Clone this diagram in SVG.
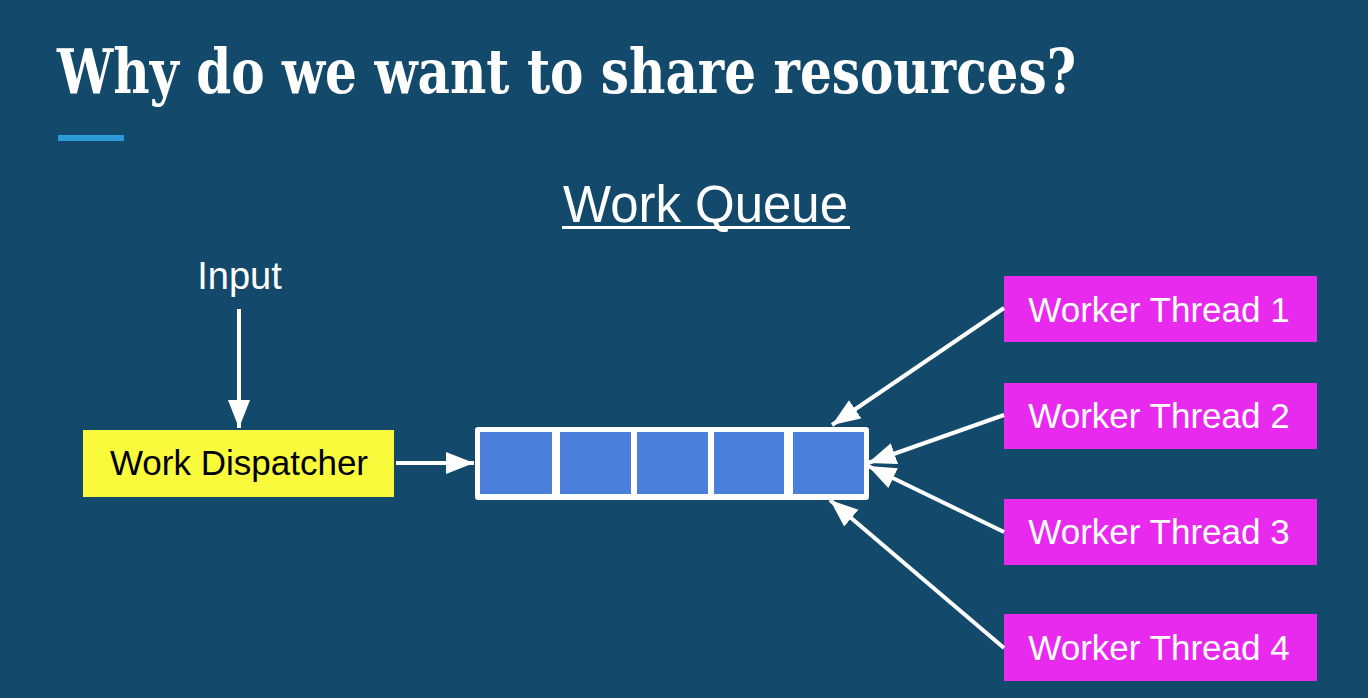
<svg xmlns="http://www.w3.org/2000/svg" width="1368" height="698" viewBox="0 0 1368 698">
<style>
.t{font-family:"Liberation Sans",Arial,sans-serif;}
.wt{fill:#ffffff;font-size:35px;}
.wbox{fill:#e72aee;}
.cell{fill:#4b7fdc;}
.conn{stroke:#ffffff;stroke-width:4;fill:none;}
</style>
<defs>
<marker id="ah" markerUnits="userSpaceOnUse" markerWidth="30" markerHeight="24" refX="28" refY="12" orient="auto">
<path d="M0,1 L28,12 L0,23 Z" fill="#ffffff"/>
</marker>
</defs>
<rect x="0" y="0" width="1368" height="698" fill="#134a6b"/>
<text x="57" y="93" font-family="'DejaVu Serif','Liberation Serif',serif" font-weight="bold" font-size="62" fill="#ffffff" textLength="1019" lengthAdjust="spacingAndGlyphs">Why do we want to share resources?</text>
<rect x="58" y="135" width="66" height="6" fill="#2a9ad8"/>
<g id="title-work-queue">
<text class="t" x="563" y="222" font-size="51" fill="#ffffff" textLength="285" lengthAdjust="spacingAndGlyphs">Work Queue</text>
<rect x="562" y="226" width="288" height="3" fill="#ffffff"/>
</g>
<g id="input">
<text class="t" x="239.5" y="289" font-size="38" fill="#ffffff" text-anchor="middle">Input</text>
</g>
<g id="dispatcher">
<rect x="83" y="430" width="311" height="67" fill="#fafa3c"/>
<text class="t" x="239" y="475" font-size="35" fill="#000000" text-anchor="middle">Work Dispatcher</text>
</g>
<g id="queue">
<rect x="475" y="427" width="394" height="73" rx="3" fill="#ffffff"/>
<rect class="cell" x="480" y="432" width="72" height="62"/>
<rect class="cell" x="560" y="432" width="71" height="62"/>
<rect class="cell" x="637" y="432" width="71" height="62"/>
<rect class="cell" x="714" y="432" width="70" height="62"/>
<rect class="cell" x="793" y="432" width="71" height="62"/>
</g>
<g id="worker1">
<rect class="wbox" x="1004" y="276" width="313" height="66"/>
<text class="t wt" x="1159" y="322" text-anchor="middle">Worker Thread 1</text>
</g>
<g id="worker2">
<rect class="wbox" x="1004" y="383" width="313" height="66"/>
<text class="t wt" x="1159" y="428" text-anchor="middle">Worker Thread 2</text>
</g>
<g id="worker3">
<rect class="wbox" x="1004" y="499" width="313" height="66"/>
<text class="t wt" x="1159" y="544" text-anchor="middle">Worker Thread 3</text>
</g>
<g id="worker4">
<rect class="wbox" x="1004" y="614" width="313" height="67"/>
<text class="t wt" x="1159" y="660" text-anchor="middle">Worker Thread 4</text>
</g>
<g id="connectors">
<line class="conn" x1="239" y1="309" x2="239" y2="428" marker-end="url(#ah)"/>
<line class="conn" x1="396" y1="463" x2="474" y2="463" marker-end="url(#ah)"/>
<line class="conn" x1="1004" y1="308" x2="832" y2="425" marker-end="url(#ah)"/>
<line class="conn" x1="1004" y1="415" x2="868" y2="463" marker-end="url(#ah)"/>
<line class="conn" x1="1004" y1="532" x2="868" y2="466" marker-end="url(#ah)"/>
<line class="conn" x1="1004" y1="648" x2="830" y2="500" marker-end="url(#ah)"/>
</g>
</svg>
